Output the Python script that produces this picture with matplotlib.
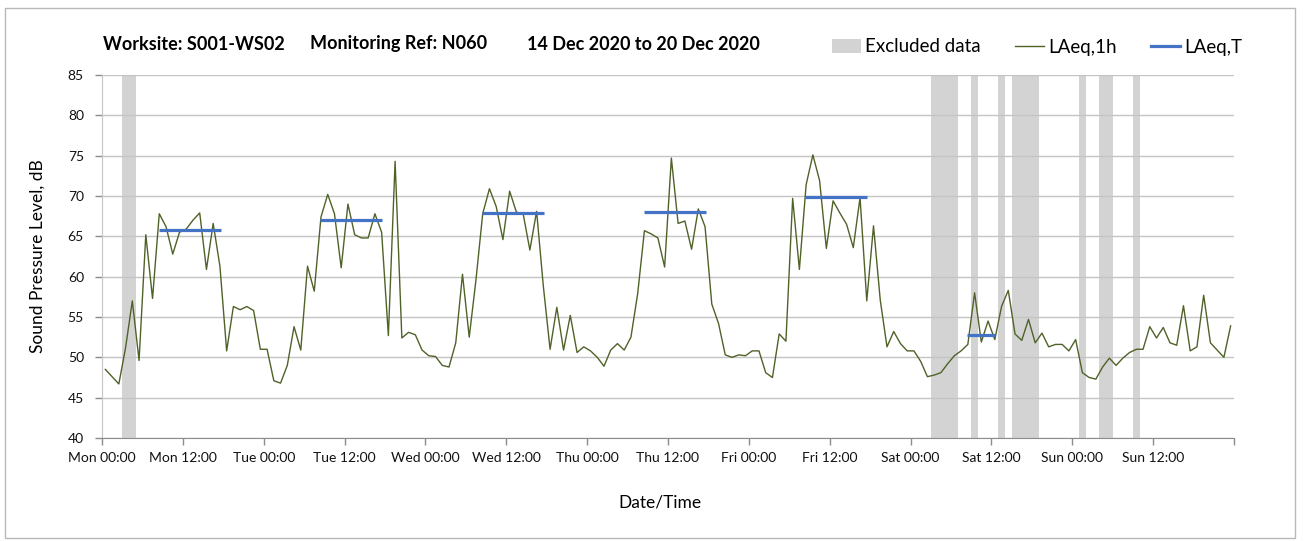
import matplotlib
matplotlib.use("Agg")
import matplotlib.pyplot as plt
from matplotlib.patches import Rectangle, Patch
from matplotlib.lines import Line2D
import numpy as np

plt.rcParams['font.family'] = ['Lato', 'DejaVu Sans']

# hourly LAeq,1h readings, Mon 00:00 to Sun 23:00 (dB)
laeq_1h = [
    48.5, 47.6, 46.7, 51.2, 57.0, 49.6, 65.2, 57.3, 67.8, 66.2, 62.8, 65.5,
    65.9, 67.0, 67.9, 60.9, 66.6, 61.3, 50.8, 56.3, 55.9, 56.3, 55.8, 51.0,
    51.0, 47.1, 46.8, 49.0, 53.8, 50.9, 61.3, 58.2, 67.4, 70.2, 67.8, 61.1,
    69.0, 65.2, 64.8, 64.8, 67.8, 65.5, 52.7, 74.3, 52.4, 53.1, 52.8, 50.9,
    50.2, 50.1, 49.0, 48.8, 51.8, 60.3, 52.5, 59.6, 67.8, 70.9, 68.7, 64.6,
    70.6, 68.0, 67.8, 63.3, 68.1, 58.8, 51.0, 56.2, 50.9, 55.2, 50.6, 51.3,
    50.8, 50.0, 48.9, 50.9, 51.7, 50.9, 52.5, 57.9, 65.7, 65.3, 64.8, 61.2,
    74.7, 66.6, 66.9, 63.4, 68.4, 66.2, 56.6, 54.2, 50.3, 50.0, 50.3, 50.2,
    50.8, 50.8, 48.1, 47.5, 52.9, 52.0, 69.7, 60.9, 71.4, 75.1, 71.9, 63.5,
    69.4, 67.9, 66.5, 63.6, 69.8, 57.0, 66.3, 57.1, 51.3, 53.2, 51.7, 50.8,
    50.8, 49.5, 47.6, 47.8, 48.1, 49.2, 50.2, 50.8, 51.6, 58.0, 51.9, 54.5,
    52.2, 56.3, 58.3, 52.9, 52.1, 54.7, 51.8, 53.0, 51.3, 51.6, 51.6, 50.8,
    52.2, 48.1, 47.5, 47.3, 48.8, 49.9, 49.0, 49.9, 50.6, 51.0, 51.0, 53.8,
    52.4, 53.7, 51.8, 51.5, 56.4, 50.8, 51.3, 57.7, 51.8, 50.9, 50.0, 53.9,
]
hours = np.arange(len(laeq_1h))

# LAeq,T over each daytime period (start hour, end hour, dB)
period_start = [8, 32, 56, 80, 104, 128]
period_end = [18, 42, 66, 90, 114, 133]
laeq_t = [65.8, 67.0, 67.9, 68.0, 69.9, 52.8]

# excluded data windows (start hour, end hour)
excl_start = [3, 123, 129, 133, 135, 145, 148, 153]
excl_end = [5, 127, 130, 134, 139, 146, 150, 154]

tick_hours = list(range(0, 169, 12))
day_names = ['Mon', 'Tue', 'Wed', 'Thu', 'Fri', 'Sat', 'Sun']
tick_labels = []
for h in tick_hours[:-1]:
    tick_labels.append('%s %02d:00' % (day_names[h // 24], h % 24))
tick_labels.append('')

W, H = 1304, 541
fig = plt.figure(figsize=(W / 100, H / 100), dpi=100)
ax = fig.add_axes([102 / W, 1 - 438 / H, (1234 - 102) / W, (438 - 75) / H])

green = '#4f6228'
blue = '#4472c4'
band = '#d3d3d3'

for s, e in zip(excl_start, excl_end):
    ax.axvspan(s, e, color=band, lw=0, zorder=0.3)

ax.plot(hours + 0.5, laeq_1h, color=green, lw=1.0, zorder=2)
for s, e, v in zip(period_start, period_end, laeq_t):
    ax.plot([s + 0.4, e - 0.4], [v, v], color=blue, lw=2.3,
            solid_capstyle='butt', zorder=3)

ax.set_xlim(0, 168)
ax.set_ylim(40, 85)
ax.set_yticks(range(40, 86, 5))
ax.set_xticks(tick_hours)
ax.set_xticklabels(tick_labels)
ax.set_xticks(range(0, 169, 24), minor=True)

ax.set_axisbelow(True)
ax.grid(axis='y', which='major', color='#c4c4c4', lw=1.0)
ax.grid(axis='x', which='minor', color='#dadada', lw=1.0)
ax.tick_params(axis='x', which='minor', length=0)
ax.tick_params(axis='both', which='major', labelsize=10, length=5,
               width=1, color='#8c8c8c', labelcolor='#111111')
ax.tick_params(axis='y', pad=8)
ax.tick_params(axis='x', pad=5)

for side in ['top', 'right']:
    ax.spines[side].set_visible(False)
ax.spines['left'].set_color('#c4c4c4')
ax.spines['bottom'].set_color('#8c8c8c')

fig.text(38 / W, 1 - 256 / H, 'Sound Pressure Level, dB', rotation=90,
         ha='center', va='center', fontsize=12.5)
fig.text(660 / W, 1 - 502 / H, 'Date/Time', ha='center', va='center',
         fontsize=12.5)

# header line
fig.text(103 / W, 1 - 44 / H, 'Worksite: S001-WS02', ha='left', va='center',
         fontsize=13, fontweight='bold')
fig.text(310 / W, 1 - 44 / H, 'Monitoring Ref: N060', ha='left', va='center',
         fontsize=13, fontweight='bold')
fig.text(527 / W, 1 - 44 / H, '14 Dec 2020 to 20 Dec 2020', ha='left',
         va='center', fontsize=13, fontweight='bold')

handles = [Patch(facecolor=band, edgecolor='none'),
           Line2D([], [], color=green, lw=1.0),
           Line2D([], [], color=blue, lw=2.3)]
fig.legend(handles, ['Excluded data', 'LAeq,1h', 'LAeq,T'], ncol=3,
           loc='center left', bbox_to_anchor=(819 / W, 1 - 47 / H),
           frameon=False, fontsize=13.5, handlelength=1.55, handleheight=0.8,
           handletextpad=0.2, columnspacing=1.85, borderpad=0.2)

fig.add_artist(Rectangle((5 / W, 3 / H), 1290 / W, 530 / H,
                         transform=fig.transFigure, fill=False,
                         edgecolor='#b8b8b8', lw=1.0))

fig.savefig('out.png', dpi=100, facecolor='white')
